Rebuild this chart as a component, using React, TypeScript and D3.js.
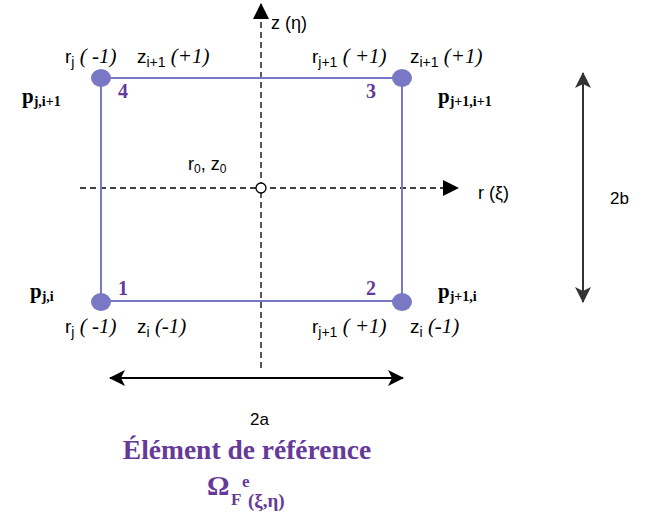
import React from "react"
import * as d3 from "d3"

// reference element nodes (local coordinates xi, eta)
const nodeIds = [1, 2, 3, 4]
const nodeXi = [-1, 1, 1, -1]
const nodeEta = [-1, -1, 1, 1]
const pSubs = ["j,i", "j+1,i", "j+1,i+1", "j,i+1"]
const rSubs = ["j", "j+1", "j+1", "j"]
const rVals = ["( -1)", "( +1)", "( +1)", "( -1)"]
const zSubs = ["i", "i", "i+1", "i+1"]
const zVals = ["(-1)", "(-1)", "(+1)", "(+1)"]

const purple = "#663a99"
const edge = "#7878c4"
const sans = "Liberation Sans, Arial, sans-serif"
const serif = "Liberation Serif, Times New Roman, serif"

export default function App() {
  const x = d3.scaleLinear().domain([-1, 1]).range([101, 402])
  const y = d3.scaleLinear().domain([-1, 1]).range([301, 78])

  const nodes = nodeIds.map((id, i) => ({
    id,
    xi: nodeXi[i],
    eta: nodeEta[i],
    p: pSubs[i],
    r: rSubs[i],
    rv: rVals[i],
    z: zSubs[i],
    zv: zVals[i]
  }))

  const ring = [0, 1, 2, 3, 0].map(i => [x(nodeXi[i]), y(nodeEta[i])] as [number, number])
  const outline = d3.line()(ring) || ""

  const ox = 261
  const oy = 188

  return (
    <svg width={654} height={515} style={{ position: "absolute", left: 0, top: 0 }}>
      <defs>
        <marker id="tri" viewBox="0 0 16 16" refX="15" refY="8" markerWidth="16" markerHeight="16"
          markerUnits="userSpaceOnUse" orient="auto">
          <path d="M0,0 L16,8 L0,16 Z" fill="#000" />
        </marker>
        <marker id="stealth" viewBox="0 0 16 18" refX="15" refY="9" markerWidth="16" markerHeight="18"
          markerUnits="userSpaceOnUse" orient="auto-start-reverse">
          <path d="M0,1 L16,9 L0,17 L4,9 Z" fill="context-stroke" />
        </marker>
      </defs>
      <rect width={654} height={515} fill="#fff" />

      {/* axes */}
      <line x1={80} y1={oy} x2={458} y2={oy} stroke="#000" strokeWidth={1.3}
        strokeDasharray="6,4" markerEnd="url(#tri)" />
      <line x1={ox} y1={368} x2={ox} y2={4} stroke="#000" strokeWidth={1.3}
        strokeDasharray="6,4" markerEnd="url(#tri)" />

      {/* element outline */}
      <path d={outline} fill="none" stroke={edge} strokeWidth={2} />
      <circle cx={ox} cy={oy} r={5} fill="#fff" stroke="#000" strokeWidth={1.3} />

      {nodes.map(n => (
        <ellipse key={n.id} cx={x(n.xi)} cy={y(n.eta) + (n.eta < 0 ? 1 : 0)} rx={10} ry={9} fill={edge} />
      ))}

      {/* node numbers */}
      {nodes.map(n => (
        <text key={"n" + n.id} x={x(n.xi) + (n.xi < 0 ? 17 : -36)} y={y(n.eta) + (n.eta > 0 ? 20 : -6)}
          fontFamily={serif} fontWeight="bold" fontSize={20} fill={purple}>{n.id}</text>
      ))}

      {/* p labels */}
      {nodes.map(n => (
        <text key={"p" + n.id} x={n.xi < 0 ? (n.eta > 0 ? 22 : 30) : 438} y={n.eta > 0 ? 103 : 298}
          fontFamily={serif} fontWeight="bold" fontSize={21} fill="#000">
          p<tspan fontSize={14} dy={3}>{n.p}</tspan>
        </text>
      ))}

      {/* r / z labels */}
      {nodes.map(n => {
        const by = n.eta > 0 ? 63 : 333
        const rx = n.xi < 0 ? x(n.xi) - 36 : x(n.xi) - 90
        const zx = n.xi < 0 ? x(n.xi) + 36 : x(n.xi) + 8
        return (
          <g key={"rz" + n.id}>
            <text x={rx} y={by} fontFamily={sans} fontSize={19} fill="#000">
              r<tspan fontSize={14} dy={4}>{n.r}</tspan>
              <tspan dy={-4} fontFamily={serif} fontStyle="italic" fontSize={21}>{" " + n.rv}</tspan>
            </text>
            <text x={zx} y={by} fontFamily={sans} fontSize={19} fill="#000">
              z<tspan fontSize={14} dy={4}>{n.z}</tspan>
              <tspan dy={-4} fontFamily={serif} fontStyle="italic" fontSize={21}>{" " + n.zv}</tspan>
            </text>
          </g>
        )
      })}

      {/* axis labels */}
      <text x={271} y={29} fontFamily={sans} fontSize={18}>z (η)</text>
      <text x={478} y={199} fontFamily={sans} fontSize={18}>r (ξ)</text>
      <text x={188} y={170} fontFamily={sans} fontSize={18}>
        r<tspan fontSize={12} dy={3}>0</tspan><tspan dy={-3}>, z</tspan><tspan fontSize={12} dy={3}>0</tspan>
      </text>

      {/* dimension arrows */}
      <line x1={110} y1={378} x2={403} y2={378} stroke="#000" strokeWidth={2}
        markerStart="url(#stealth)" markerEnd="url(#stealth)" />
      <text x={250} y={425} fontFamily={sans} fontSize={17}>2a</text>
      <line x1={583} y1={73} x2={583} y2={302} stroke="#333" strokeWidth={2}
        markerStart="url(#stealth)" markerEnd="url(#stealth)" />
      <text x={610} y={204} fontFamily={sans} fontSize={17}>2b</text>

      {/* caption */}
      <text x={247} y={459} textAnchor="middle" fontFamily={serif} fontWeight="bold" fontSize={27.5} fill={purple}>
        Élément de référence
      </text>
      <text fontFamily={serif} fontWeight="bold" fill={purple}>
        <tspan x={207} y={495} fontSize={28}>Ω</tspan>
        <tspan x={231} y={505} fontSize={17}>F</tspan>
        <tspan x={242} y={487} fontSize={17}>e</tspan>
        <tspan x={248} y={507} fontSize={19}>(ξ,η)</tspan>
      </text>
    </svg>
  )
}
